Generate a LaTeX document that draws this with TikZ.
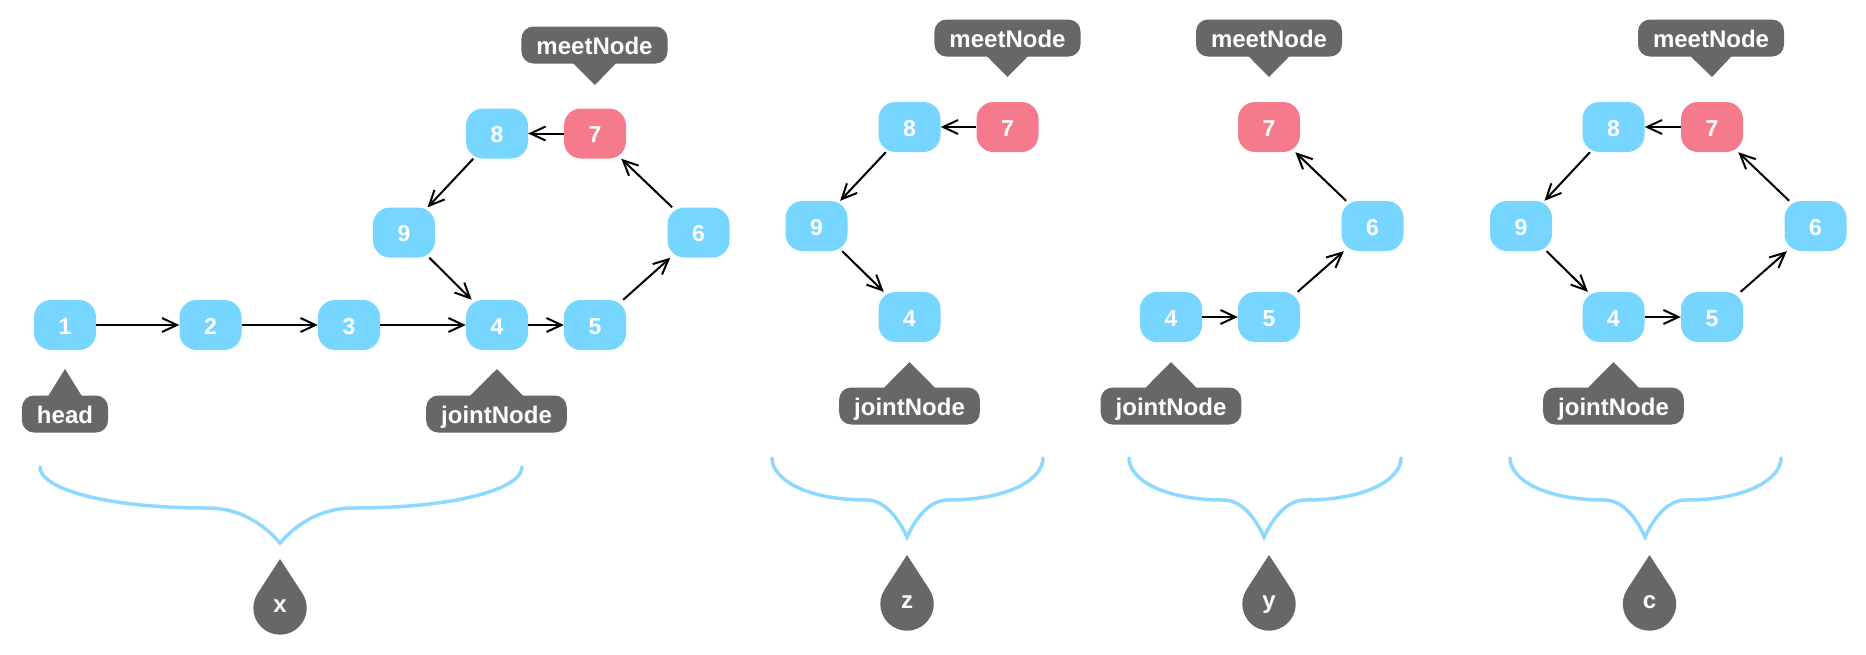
\documentclass[tikz,border=0pt]{standalone}
\usepackage{fontspec}
\setmainfont{Liberation Sans}
\usetikzlibrary{arrows.meta,calc}
\definecolor{nodeblue}{RGB}{119,214,255}
\definecolor{nodered}{RGB}{245,122,140}
\definecolor{labgray}{RGB}{103,103,103}
\definecolor{braceblue}{RGB}{140,216,255}
\tikzset{
  lnode/.style={fill=nodeblue, text=white, rounded corners=17pt, minimum width=62pt, minimum height=50pt, inner sep=0pt, text height=18.4pt, text depth=0pt, font=\fontsize{23}{23}\selectfont\bfseries},
  rnode/.style={lnode, fill=nodered},
  tag/.style={fill=labgray, text=white, rounded corners=12pt, minimum height=37pt, inner xsep=15pt, inner ysep=0pt, text height=20pt, text depth=1.4pt, font=\fontsize{24}{24}\selectfont\bfseries},
  link/.style={line width=2pt, -{Straight Barb[length=15pt,width=14pt,line width=2pt]}},
  bracestroke/.style={draw=braceblue, line width=3.5pt, line cap=round},
  droptext/.style={text=white, anchor=base, inner sep=0pt, font=\fontsize{24}{24}\selectfont\bfseries},
}
% brace: L, C, R, top y, plateau y, cusp y (pixels, y downwards)
\newcommand\mybrace[6]{%
  \draw[bracestroke] (#1,-#4)
   .. controls (#1,{-(#4+0.5*(#5-#4))}) and ({#1+0.25*(#2-#1)},-#5) .. ({#2-0.3*(#2-#1)},-#5)
   .. controls ({#2-0.15*(#2-#1)},-#5) and ({#2-0.05*(#2-#1)},{-(#6-0.4*(#6-#5))}) .. (#2,-#6)
   .. controls ({#2+0.05*(#3-#2)},{-(#6-0.4*(#6-#5))}) and ({#2+0.15*(#3-#2)},-#5) .. ({#2+0.3*(#3-#2)},-#5)
   .. controls ({#3-0.25*(#3-#2)},-#5) and (#3,{-(#4+0.5*(#5-#4))}) .. (#3,-#4);}
% drop: x, tip y, centre y, name, letter
\newcommand\mydrop[5]{%
  \fill[labgray] (#1,-#2) -- ($(#1,-#3)+(147:26.7)$) arc[start angle=147,end angle=393,radius=26.7] -- cycle;
  \node[droptext] (#4) at (#1,{-(#3+4)}) {#5};}
% pointer below tag (tag name, tip coordinate, half width)
\newcommand\tagdown[3]{\fill[labgray] ($(#1.south)+(-#3,1)$) -- (#2) -- ($(#1.south)+(#3,1)$) -- cycle;}
\newcommand\tagup[3]{\fill[labgray] ($(#1.north)+(-#3,-1)$) -- (#2) -- ($(#1.north)+(#3,-1)$) -- cycle;}
\begin{document}
\begin{tikzpicture}[x=1pt,y=1pt]
\useasboundingbox (0,-654) rectangle (1866,0);
% ---------- panel 1 ----------
\node[lnode] (a1) at (65,-325) {1};
\node[lnode] (a2) at (210.5,-325) {2};
\node[lnode] (a3) at (349,-325) {3};
\node[lnode] (a4) at (497,-325) {4};
\node[lnode] (a5) at (595,-325) {5};
\node[lnode] (a6) at (698.5,-232.5) {6};
\node[rnode] (a7) at (595,-133.5) {7};
\node[lnode] (a8) at (497,-133.5) {8};
\node[lnode] (a9) at (404,-232.5) {9};
\draw[link] (a1) -- (a2);
\draw[link] (a2) -- (a3);
\draw[link] (a3) -- (a4);
\draw[link] (a4) -- (a5);
\draw[link] (a5) -- (a6);
\draw[link] (a6) -- (a7);
\draw[link] (a7) -- (a8);
\draw[link] (a8) -- (a9);
\draw[link] (a9) -- (a4);
\node[tag] (ahead) at (65,-414) {head};
\coordinate (aheadtip) at (65,-369);
\tagup{ahead}{aheadtip}{17}
\node[tag] (ajoint) at (496.5,-414) {jointNode};
\coordinate (ajointtip) at (497,-369);
\tagup{ajoint}{ajointtip}{27}
\node[tag] (ameet) at (594.5,-45) {meetNode};
\coordinate (ameettip) at (595,-85);
\tagdown{ameet}{ameettip}{22}
\mybrace{40}{280}{522}{467}{508}{543}
\mydrop{280}{559}{608}{dx}{x}
% ---------- panel 2 ----------
\node[lnode] (b8) at (909.5,-127) {8};
\node[rnode] (b7) at (1007.5,-127) {7};
\node[lnode] (b9) at (816.5,-226) {9};
\node[lnode] (b4) at (909.5,-317) {4};
\draw[link] (b7) -- (b8);
\draw[link] (b8) -- (b9);
\draw[link] (b9) -- (b4);
\node[tag] (bmeet) at (1007.5,-38) {meetNode};
\coordinate (bmeettip) at (1007.5,-77);
\tagdown{bmeet}{bmeettip}{21}
\node[tag] (bjoint) at (909.5,-406) {jointNode};
\coordinate (bjointtip) at (909.5,-362);
\tagup{bjoint}{bjointtip}{26}
\mybrace{772}{907}{1043}{458}{500}{537}
\mydrop{907}{555}{604}{dz}{z}
% ---------- panel 3 ----------
\node[rnode] (c7) at (1269,-127) {7};
\node[lnode] (c6) at (1372.5,-226) {6};
\node[lnode] (c4) at (1171,-317) {4};
\node[lnode] (c5) at (1269,-317) {5};
\draw[link] (c4) -- (c5);
\draw[link] (c5) -- (c6);
\draw[link] (c6) -- (c7);
\node[tag] (cmeet) at (1269,-38) {meetNode};
\coordinate (cmeettip) at (1269,-77);
\tagdown{cmeet}{cmeettip}{21}
\node[tag] (cjoint) at (1171,-406) {jointNode};
\coordinate (cjointtip) at (1171,-362);
\tagup{cjoint}{cjointtip}{26}
\mybrace{1129}{1264}{1401}{458}{500}{537}
\mydrop{1269}{555}{604}{dy}{y}
% ---------- panel 4 ----------
\node[lnode] (d8) at (1613.5,-127) {8};
\node[rnode] (d7) at (1712,-127) {7};
\node[lnode] (d9) at (1521,-226) {9};
\node[lnode] (d6) at (1815.5,-226) {6};
\node[lnode] (d4) at (1613.5,-317) {4};
\node[lnode] (d5) at (1712,-317) {5};
\draw[link] (d4) -- (d5);
\draw[link] (d5) -- (d6);
\draw[link] (d6) -- (d7);
\draw[link] (d7) -- (d8);
\draw[link] (d8) -- (d9);
\draw[link] (d9) -- (d4);
\node[tag] (dmeet) at (1711,-38) {meetNode};
\coordinate (dmeettip) at (1712,-77);
\tagdown{dmeet}{dmeettip}{21}
\node[tag] (djoint) at (1613.5,-406) {jointNode};
\coordinate (djointtip) at (1613.5,-362);
\tagup{djoint}{djointtip}{26}
\mybrace{1510}{1645}{1781}{458}{500}{537}
\mydrop{1649.5}{555}{604}{dc}{c}
\end{tikzpicture}
\end{document}
